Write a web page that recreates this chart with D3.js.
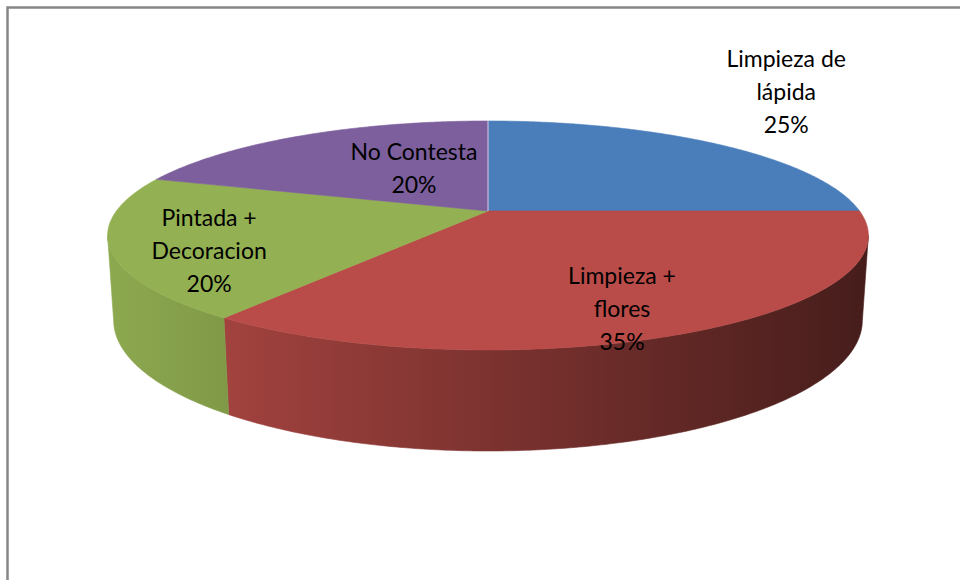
<!DOCTYPE html>
<html>
<head>
<meta charset="utf-8">
<script src="https://cdn.jsdelivr.net/npm/d3@7"></script>
<style>
    body { margin: 0; background: #fff; }
    svg { display: block; }
</style>
</head>
<body>
<svg id="chart" width="960" height="580"></svg>
<script>
// chart data
const categories = ["Limpieza de lápida", "Limpieza + flores", "Pintada + Decoracion", "No Contesta"];
const values = [25, 35, 20, 20];
const colors = ["#4a7ebb", "#b94c48", "#93b052", "#7c5f9c"];
// label text as it wraps in the picture
const labelLines = [
    ["Limpieza de", "lápida", "25%"],
    ["Limpieza +", "flores", "35%"],
    ["Pintada +", "Decoracion", "20%"],
    ["No Contesta", "20%"]
];

const svg = d3.select("#chart");
const width = 960, height = 580;

// frame of the chart area (right and bottom edges are cut off)
svg.append("rect")
    .attr("x", 7.5).attr("y", 7.5)
    .attr("width", width).attr("height", height)
    .attr("fill", "none")
    .attr("stroke", "#878787")
    .attr("stroke-width", 2.5);

// simple perspective camera for the 3D pie
const cx = 488, cy = 211;
const focal = 1661, dist = 4.47, thick = 0.234;
const tilt = 17.1 * Math.PI / 180;
const sinA = Math.sin(tilt), cosA = Math.cos(tilt);

function project(theta, r, z) {
    const u = r * Math.sin(theta);
    const v = -r * Math.cos(theta);   // positive v is toward the viewer
    const d = dist - v * cosA - z * sinA;
    return [cx + u * focal / d, cy + (v * sinA - z * cosA) * focal / d];
}

function arcPoints(a0, a1, z) {
    const n = Math.max(2, Math.ceil(Math.abs(a1 - a0) / 0.01));
    return d3.range(n + 1).map(i => project(a0 + (a1 - a0) * i / n, 1, z));
}

const pie = d3.pie().sort(null).value(d => d)(values);
const line = d3.line();

// side wall is only seen between the two silhouette angles
const frontStart = Math.PI / 2 + Math.asin(cosA / dist);
const frontEnd = 3 * Math.PI / 2 - Math.asin(cosA / dist);

const xLeft = d3.min(d3.range(0, 360).map(a => project(a * Math.PI / 180, 1, 0)[0]));
const xRight = d3.max(d3.range(0, 360).map(a => project(a * Math.PI / 180, 1, 0)[0]));

function shade(c, k) {
    const col = d3.rgb(c);
    return d3.rgb(col.r * k, col.g * k, col.b * k).formatHex();
}

const defs = svg.append("defs");
pie.forEach((p, i) => {
    const g = defs.append("linearGradient")
        .attr("id", "side-" + i)
        .attr("gradientUnits", "userSpaceOnUse")
        .attr("x1", xLeft).attr("y1", 0)
        .attr("x2", xRight).attr("y2", 0);
    g.append("stop").attr("offset", "0%").attr("stop-color", shade(colors[i], 0.96));
    g.append("stop").attr("offset", "45%").attr("stop-color", shade(colors[i], 0.7));
    g.append("stop").attr("offset", "100%").attr("stop-color", shade(colors[i], 0.38));
});

const pieG = svg.append("g");

// walls first
pie.forEach((p, i) => {
    const a0 = Math.max(p.startAngle, frontStart);
    const a1 = Math.min(p.endAngle, frontEnd);
    if (a1 <= a0) return;
    const pts = arcPoints(a0, a1, 0).concat(arcPoints(a1, a0, -thick));
    pieG.append("path")
        .attr("d", line(pts) + "Z")
        .attr("fill", "url(#side-" + i + ")")
        .attr("stroke", "url(#side-" + i + ")")
        .attr("stroke-width", 0.6);
});

// top faces
pie.forEach((p, i) => {
    const pts = [project(0, 0, 0)].concat(arcPoints(p.startAngle, p.endAngle, 0));
    pieG.append("path")
        .attr("d", line(pts) + "Z")
        .attr("fill", colors[i])
        .attr("stroke", colors[i])
        .attr("stroke-width", 0.6);
});

// thin light edge between the blue and purple slices
pieG.append("path")
    .attr("d", line([project(0, 0, 0), project(0, 1, 0)]))
    .attr("stroke", "#d8d0e6")
    .attr("stroke-width", 1);

// label anchor: [radius factor on the pie, vertical shift]
const labelPlace = [[1.37, -31], [0.69, 21], [0.75, 13], [0.36, -13]];
const lineH = 33;

pie.forEach((p, i) => {
    const mid = (p.startAngle + p.endAngle) / 2;
    const [lx, ly] = project(mid, labelPlace[i][0], 0);
    const lines = labelLines[i];
    const top = ly + labelPlace[i][1] - (lines.length - 1) * lineH / 2;
    const t = svg.append("text")
        .attr("text-anchor", "middle")
        .attr("font-family", "Lato, 'Open Sans', sans-serif")
        .attr("font-size", 23)
        .attr("fill", "#000");
    lines.forEach((s, j) => {
        t.append("tspan")
            .attr("x", lx)
            .attr("y", top + j * lineH)
            .attr("dy", "0.35em")
            .text(s);
    });
});
</script>
</body>
</html>
